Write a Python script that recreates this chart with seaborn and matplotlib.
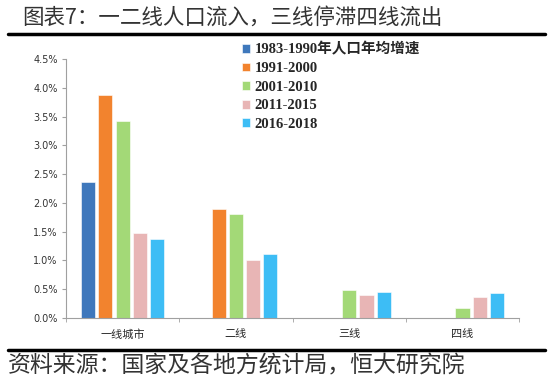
#importing required libraries
import pandas as pd
import matplotlib.pyplot as plt
import seaborn as sns
from matplotlib.lines import Line2D
from matplotlib.ticker import PercentFormatter, FixedLocator

#chart data
cities = ["一线城市", "二线", "三线", "四线"]
periods = ["1983-1990年人口年均增速", "1991-2000", "2001-2010", "2011-2015", "2016-2018"]
v_1983_1990 = [0.0237, None, None, None]
v_1991_2000 = [0.0387, 0.0190, None, None]
v_2001_2010 = [0.0343, 0.0180, 0.0048, 0.0018]
v_2011_2015 = [0.0148, 0.0100, 0.0040, 0.0037]
v_2016_2018 = [0.0138, 0.0112, 0.0045, 0.0043]
colors = ["#3F78BC", "#F2832E", "#A3D977", "#E8B5B5", "#3DBDF5"]

#long format table for seaborn
rows = []
for p, vals in zip(periods, [v_1983_1990, v_1991_2000, v_2001_2010, v_2011_2015, v_2016_2018]):
    for c, v in zip(cities, vals):
        rows.append({"city": c, "period": p, "value": v})
df = pd.DataFrame(rows)

sns.set_style("white")
plt.rcParams["font.family"] = ["DejaVu Sans", "Noto Sans CJK SC"]

fig = plt.figure(figsize=(5.5, 3.84), dpi=100)
ax = fig.add_axes([0.12, 0.172, 0.824, 0.674])

sns.barplot(data=df, x="city", y="value", hue="period", order=cities, hue_order=periods,
            palette=colors, saturation=1, width=0.76, gap=0.18, ax=ax, legend=True)
for bar in ax.patches:
    bar.set_edgecolor("white")
    bar.set_linewidth(0.4)

ax.set_xlim(-0.5, 3.5)
ax.set_ylim(0, 0.045)
ax.yaxis.set_major_locator(FixedLocator([i * 0.005 for i in range(10)]))
ax.yaxis.set_major_formatter(PercentFormatter(1.0, decimals=1))
ax.set_xlabel("")
ax.set_ylabel("")
for s in ["top", "right"]:
    ax.spines[s].set_visible(False)
ax.spines["left"].set_color("#A0A0A0")
ax.spines["bottom"].set_color("#A0A0A0")
ax.tick_params(axis="y", labelsize=7, length=3, color="#A0A0A0", left=True, pad=3, labelcolor="#333333")
ax.tick_params(axis="x", which="major", length=0, labelsize=8, pad=8)
ax.set_xticks([-0.5, 0.5, 1.5, 2.5, 3.5], minor=True)
ax.tick_params(axis="x", which="minor", length=3, color="#A0A0A0", bottom=True)
for t in ax.get_xticklabels():
    t.set_family(["Noto Sans CJK SC"])

handles, labels = ax.get_legend_handles_labels()
ax.legend(handles, labels, loc="upper left", bbox_to_anchor=(0.36, 1.115), frameon=False,
          handlelength=0.55, handleheight=0.55, handletextpad=0.3, labelspacing=0.38,
          prop={"family": ["Liberation Serif", "Noto Sans CJK SC"], "weight": "bold", "size": 10.5})

#title, rules and source
fig.text(0.04, 0.953, "图表7：一二线人口流入，三线停滞四线流出", fontsize=15.5,
         family=["Noto Sans CJK SC"], color="#333333", va="center")
fig.add_artist(Line2D([0.015, 0.99], [0.911, 0.911], color="black", lw=2.5))
fig.add_artist(Line2D([0.015, 0.99], [0.089, 0.089], color="black", lw=2.5))
fig.text(0.015, 0.048, "资料来源：国家及各地方统计局，恒大研究院", fontsize=16.5,
         family=["Noto Sans CJK SC"], style="italic", color="#333333", va="center")

fig.savefig("out.png", dpi=100)
